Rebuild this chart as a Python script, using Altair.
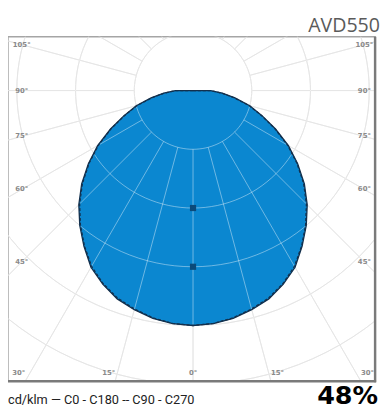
import altair as alt
import pandas as pd
import numpy as np

# ---- data (cd/klm) ----
angles = [0, 5, 10, 15, 20, 25, 30, 35, 40, 45, 50, 55, 60, 65, 70, 75, 80, 85, 90]
c0_c180 = [160, 159.4, 157.5, 154.5, 151, 145.5, 139, 129.5, 120, 110, 99, 87, 75, 62, 50, 40, 29, 20, 12]
c90_c270 = [160, 159.2, 157.2, 154, 150.4, 145, 138.2, 129, 119.3, 109.2, 98.3, 86.4, 74.4, 61.5, 49.5, 39.5, 28.5, 19.5, 11.5]
ring_values = [40, 80, 120, 160, 200, 240]
ray_angles = list(range(0, 360, 15))
side_label_angles = [45, 60, 75, 90, 105]
bottom_label_angles = [0, 15, 30]
scale_marks = [80, 120]
title_text = "AVD550"
legend_text = "cd/klm \u2014 C0 - C180 -- C90 - C270"
lor_text = "48%"

# ---- geometry helpers ----
W, H = 375, 352
XD = [-126, 124]
YD = [-198, 36.6667]
xs = alt.Scale(domain=XD, nice=False, zero=False)
ys = alt.Scale(domain=YD, nice=False, zero=False)

def curve(vals):
    rows = [{"i": 0, "x": 0.0, "y": 0.0}]
    i = 1
    for a, r in zip(angles[::-1], vals[::-1]):
        t = np.radians(a)
        rows.append({"i": i, "x": -r * np.sin(t), "y": -r * np.cos(t)}); i += 1
    for a, r in zip(angles[1:], vals[1:]):
        t = np.radians(a)
        rows.append({"i": i, "x": r * np.sin(t), "y": -r * np.cos(t)}); i += 1
    rows.append({"i": i, "x": 0.0, "y": 0.0})
    return pd.DataFrame(rows)

area_df = pd.DataFrame({
    "y": [float(-r * np.cos(np.radians(a))) for a, r in zip(angles, c0_c180)],
    "xl": [float(-r * np.sin(np.radians(a))) for a, r in zip(angles, c0_c180)],
    "xr": [float(r * np.sin(np.radians(a))) for a, r in zip(angles, c0_c180)],
}).sort_values("y")

ring_rows = []
for rv in ring_values:
    for k, a in enumerate(np.arange(0, 361, 3)):
        t = np.radians(a)
        ring_rows.append({"ring": rv, "i": k, "x": rv * np.sin(t), "y": rv * np.cos(t)})
ring_df = pd.DataFrame(ring_rows)

ray_df = pd.DataFrame({
    "a": ray_angles,
    "x": [ring_values[0] * np.sin(np.radians(a)) for a in ray_angles],
    "y": [-ring_values[0] * np.cos(np.radians(a)) for a in ray_angles],
    "x2": [300 * np.sin(np.radians(a)) for a in ray_angles],
    "y2": [-300 * np.cos(np.radians(a)) for a in ray_angles],
})

inset = 116.67
side_rows = []
for a in side_label_angles:
    t = np.radians(a)
    for s in (-1, 1):
        side_rows.append({"lab": f"{a}\u00b0", "x": s * inset, "y": -inset * np.cos(t) / np.sin(t)})
side_df = pd.DataFrame(side_rows)

bot_rows = []
for a in bottom_label_angles:
    t = np.radians(a)
    dxu = -YD[0] * np.tan(t)
    if a == 0:
        bot_rows.append({"lab": f"{a}\u00b0", "x": 0.0, "y": YD[0], "side": "c"})
    else:
        bot_rows.append({"lab": f"{a}\u00b0", "x": -dxu, "y": YD[0], "side": "l"})
        bot_rows.append({"lab": f"{a}\u00b0", "x": dxu, "y": YD[0], "side": "r"})
bot_df = pd.DataFrame(bot_rows)

mark_df = pd.DataFrame({"x": [0.0] * len(scale_marks), "y": [float(-v) for v in scale_marks]})

# ---- layers ----
def grid_layers(color, opacity):
    rings = alt.Chart(ring_df).mark_line(clip=True, strokeWidth=1, color=color, opacity=opacity).encode(
        x=alt.X("x:Q", scale=xs, axis=None), y=alt.Y("y:Q", scale=ys, axis=None),
        detail="ring:N", order="i:Q")
    rays = alt.Chart(ray_df).mark_rule(clip=True, strokeWidth=1, color=color, opacity=opacity).encode(
        x=alt.X("x:Q", scale=xs, axis=None), y=alt.Y("y:Q", scale=ys, axis=None),
        x2="x2:Q", y2="y2:Q")
    return [rings, rays]

area = alt.Chart(area_df).mark_area(orient="horizontal", fill="#0b87d0", fillOpacity=1).encode(
    y=alt.Y("y:Q", scale=ys, axis=None, stack=None),
    x=alt.X("xl:Q", scale=xs, axis=None, stack=None),
    x2="xr:Q")

line1 = alt.Chart(curve(c0_c180)).mark_line(color="#13304d", strokeWidth=1.3).encode(
    x=alt.X("x:Q", scale=xs, axis=None), y=alt.Y("y:Q", scale=ys, axis=None), order="i:Q")
line2 = alt.Chart(curve(c90_c270)).mark_line(color="#13304d", strokeWidth=1.3, strokeDash=[3, 2]).encode(
    x=alt.X("x:Q", scale=xs, axis=None), y=alt.Y("y:Q", scale=ys, axis=None), order="i:Q")

marks = alt.Chart(mark_df).mark_square(size=40, color="#0b4a7a", opacity=1).encode(
    x=alt.X("x:Q", scale=xs, axis=None), y=alt.Y("y:Q", scale=ys, axis=None))

lab_style = dict(font="DejaVu Sans", fontSize=7, fontWeight="bold", color="#8a8a8a")
side_labels = alt.Chart(side_df).mark_text(align="center", baseline="middle", **lab_style).encode(
    x=alt.X("x:Q", scale=xs, axis=None), y=alt.Y("y:Q", scale=ys, axis=None), text="lab:N")
bl = alt.Chart(bot_df[bot_df.side == "l"]).mark_text(align="right", baseline="bottom", dy=-5, **lab_style).encode(
    x=alt.X("x:Q", scale=xs, axis=None), y=alt.Y("y:Q", scale=ys, axis=None), text="lab:N")
bc = alt.Chart(bot_df[bot_df.side == "c"]).mark_text(align="center", baseline="bottom", dy=-5, **lab_style).encode(
    x=alt.X("x:Q", scale=xs, axis=None), y=alt.Y("y:Q", scale=ys, axis=None), text="lab:N")
br = alt.Chart(bot_df[bot_df.side == "r"]).mark_text(align="left", baseline="bottom", dy=-5, **lab_style).encode(
    x=alt.X("x:Q", scale=xs, axis=None), y=alt.Y("y:Q", scale=ys, axis=None), text="lab:N")

one = pd.DataFrame({"k": [0]})
right_rule = alt.Chart(one).mark_rule(color="#7a7a7a", strokeWidth=2.5).encode(
    x=alt.value(W), y=alt.value(0), y2=alt.value(H + 1))
bottom_rule = alt.Chart(one).mark_rule(color="#7a7a7a", strokeWidth=2.5).encode(
    x=alt.value(0), x2=alt.value(W + 1), y=alt.value(H))

title = alt.Chart(one).mark_text(text=title_text, align="right", baseline="alphabetic",
                                 font="Open Sans", fontSize=20, color="#5a5a5a").encode(
    x=alt.value(W + 5), y=alt.value(-5))
legend = alt.Chart(one).mark_text(text=legend_text, align="left", baseline="alphabetic",
                                  font="Roboto", fontSize=13, color="#222222").encode(
    x=alt.value(0), y=alt.value(H + 23))
lor = alt.Chart(one).mark_text(text=lor_text, align="right", baseline="alphabetic",
                               font="DejaVu Sans", fontWeight="bold", fontSize=26, color="#000000").encode(
    x=alt.value(W + 3), y=alt.value(H + 23))

chart = alt.layer(
    *grid_layers("#d3d3d3", 1),
    area,
    *grid_layers("#ffffff", 0.42),
    line1, line2, marks,
    side_labels, bl, bc, br,
    right_rule, bottom_rule,
    title, legend, lor,
).properties(
    width=W, height=H,
    autosize=alt.AutoSizeParams(type="none"),
    padding={"left": 0, "top": 25, "right": 5, "bottom": 25},
    background="white",
).configure_view(stroke="#a5a5a5", strokeWidth=1.5)

chart.save("out.html", embed_options={"renderer": "svg", "actions": False})
